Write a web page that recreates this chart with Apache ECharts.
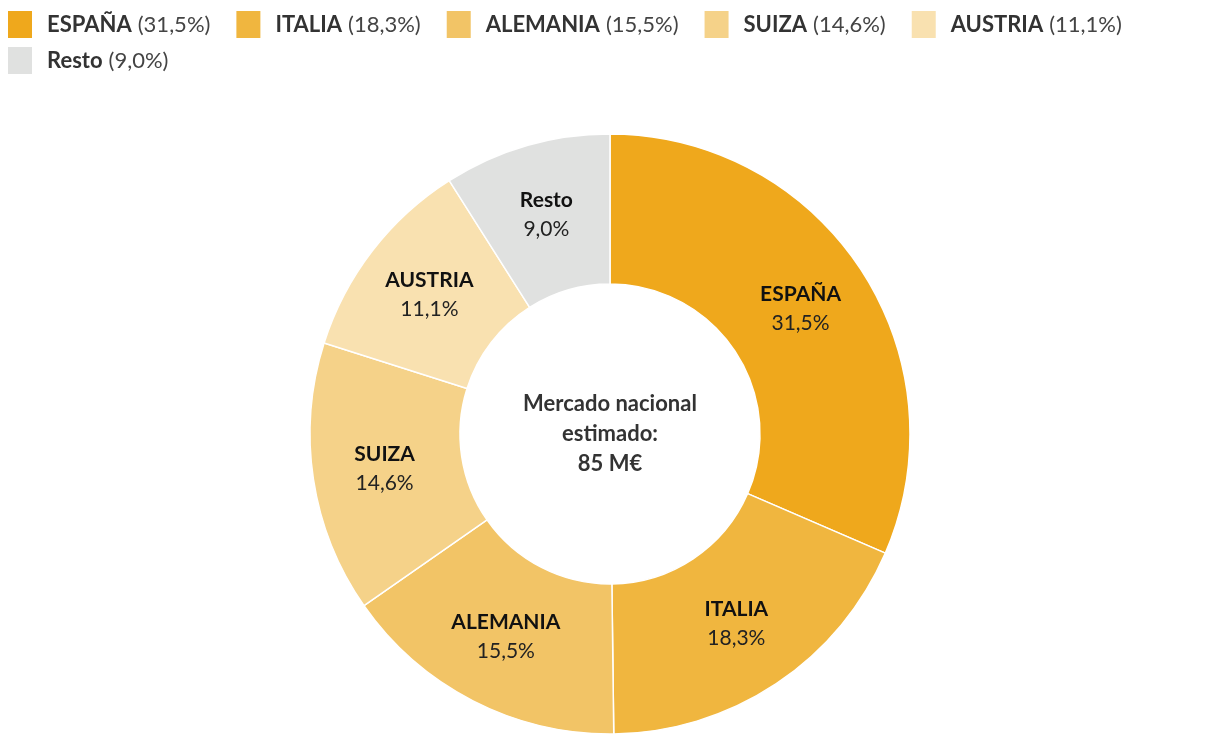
<!DOCTYPE html>
<html><head><meta charset="utf-8">
<script src="https://cdn.jsdelivr.net/npm/echarts@6/dist/echarts.min.js"></script>
<style>html,body{margin:0;padding:0;background:#fff}#c{width:1220px;height:744px}</style>
</head><body><div id="c"></div>
<script>
const categories = ['ESPAÑA', 'ITALIA', 'ALEMANIA', 'SUIZA', 'AUSTRIA', 'Resto'];
const shares = [31.5, 18.3, 15.5, 14.6, 11.1, 9.0];
const colors = ['#EFA81C', '#F0B63F', '#F2C466', '#F5D289', '#F9E1B0', '#E0E1E0'];
const centerLines = ['Mercado nacional', 'estimado:', '85 M€'];

const FONT = 'Lato';
const fmt = v => v.toFixed(1).replace('.', ',');
const chart = echarts.init(document.getElementById('c'), null, {renderer: 'canvas'});
chart.setOption({
  animation: false,
  color: colors,
  textStyle: {fontFamily: FONT},
  legend: {
    left: 8, top: 11, width: 1180, padding: 0,
    itemWidth: 24, itemHeight: 27, itemGap: 9,
    icon: 'rect', symbolKeepAspect: false,
    itemStyle: {borderWidth: 0},
    data: categories,
    formatter: name => {
      const i = categories.indexOf(name);
      return '{b|' + name + '}{p|(' + fmt(shares[i]) + '%)}{g|}';
    },
    textStyle: {
      padding: [0, 0, 0, 10],
      rich: {
        b: {fontFamily: FONT, fontWeight: 'bold', fontSize: 22, color: '#333', lineHeight: 26},
        p: {fontFamily: FONT, fontSize: 22, color: '#444', padding: [0, 0, 0, 6], lineHeight: 26},
        g: {width: 17, lineHeight: 26}
      }
    }
  },
  graphic: [{
    type: 'text', x: 610, y: 389,
    style: {
      text: centerLines.join('\n'), fontFamily: FONT, fontWeight: 'bold',
      fontSize: 22, lineHeight: 30, fill: '#333', align: 'center', verticalAlign: 'top'
    }
  }],
  series: [{
    type: 'pie',
    center: [610, 434],
    radius: [150, 300],
    startAngle: 90,
    clockwise: true,
    silent: true,
    itemStyle: {borderColor: '#fff', borderWidth: 1.5},
    label: {
      show: true, position: 'inside',
      formatter: p => '{n|' + p.name + '}\n{v|' + fmt(p.value) + '%}',
      rich: {
        n: {fontFamily: FONT, fontWeight: 'bold', fontSize: 21, color: '#111', lineHeight: 29, align: 'center'},
        v: {fontFamily: FONT, fontSize: 21, color: '#222', lineHeight: 29, align: 'center'}
      }
    },
    labelLine: {show: false},
    data: categories.map((c, i) => ({name: c, value: shares[i]}))
  }]
});
</script></body></html>
